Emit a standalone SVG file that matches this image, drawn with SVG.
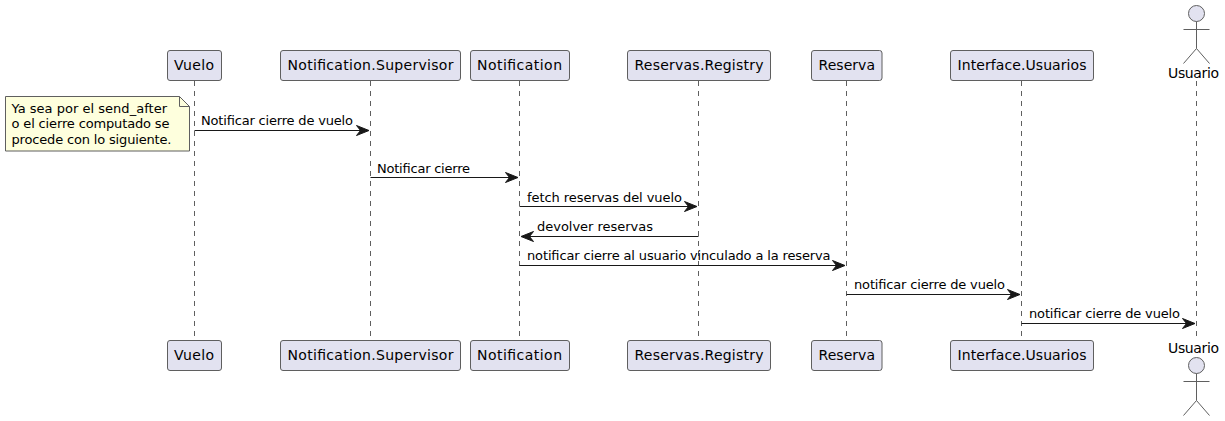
<svg xmlns="http://www.w3.org/2000/svg" width="1225" height="421" viewBox="0 0 1225 421">
<style>
text{font-family:"DejaVu Sans",sans-serif;fill:#000}
.p{font-size:14px}
.m{font-size:13px}
.b{fill:#E2E2F0;stroke:#5F5F5F;stroke-width:1}
.l{stroke:#5F5F5F;stroke-width:1;stroke-dasharray:5 5;fill:none}
.a{stroke:#181818;stroke-width:1;fill:none}
.h{fill:#181818;stroke:#181818;stroke-width:1}
.ac{fill:none;stroke:#5F5F5F;stroke-width:1}
</style>
<defs>
<path id="ar" class="h" d="M-12.5,-5 L0,0 L-12.5,5 L-8.5,0 Z"/>
<path id="al" class="h" d="M12.5,-5 L0,0 L12.5,5 L8.5,0 Z"/>
</defs>
<g id="lifelines">
<path class="l" d="M194.5,81V340"/><path class="l" d="M370.5,81V340"/><path class="l" d="M519.5,81V340"/><path class="l" d="M698.5,81V340"/><path class="l" d="M846.5,81V340"/><path class="l" d="M1021.5,81V340"/><path class="l" d="M1196.5,81V340"/>
</g>
<g id="vuelo"><rect class="b" x="167.5" y="50.5" width="54" height="30" rx="2.5"/><text class="p" x="174" y="70" textLength="40">Vuelo</text><rect class="b" x="167.5" y="340.5" width="54" height="30" rx="2.5"/><text class="p" x="174" y="360" textLength="40">Vuelo</text></g>
<g id="supervisor"><rect class="b" x="280.5" y="50.5" width="180" height="30" rx="2.5"/><text class="p" x="287.5" y="70" textLength="166">Notification.Supervisor</text><rect class="b" x="280.5" y="340.5" width="180" height="30" rx="2.5"/><text class="p" x="287.5" y="360" textLength="166">Notification.Supervisor</text></g>
<g id="notification"><rect class="b" x="470.5" y="50.5" width="99" height="30" rx="2.5"/><text class="p" x="477" y="70" textLength="85">Notification</text><rect class="b" x="470.5" y="340.5" width="99" height="30" rx="2.5"/><text class="p" x="477" y="360" textLength="85">Notification</text></g>
<g id="registry"><rect class="b" x="627.5" y="50.5" width="143" height="30" rx="2.5"/><text class="p" x="634.5" y="70" textLength="129">Reservas.Registry</text><rect class="b" x="627.5" y="340.5" width="143" height="30" rx="2.5"/><text class="p" x="634.5" y="360" textLength="129">Reservas.Registry</text></g>
<g id="reserva"><rect class="b" x="811.5" y="50.5" width="70.5" height="30" rx="2.5"/><text class="p" x="818.5" y="70" textLength="56.5">Reserva</text><rect class="b" x="811.5" y="340.5" width="70.5" height="30" rx="2.5"/><text class="p" x="818.5" y="360" textLength="56.5">Reserva</text></g>
<g id="interface"><rect class="b" x="950.5" y="50.5" width="143" height="30" rx="2.5"/><text class="p" x="957.5" y="70" textLength="129">Interface.Usuarios</text><rect class="b" x="950.5" y="340.5" width="143" height="30" rx="2.5"/><text class="p" x="957.5" y="360" textLength="129">Interface.Usuarios</text></g>
<g id="usuario">
<circle class="b" cx="1196.5" cy="13.5" r="8"/><path class="ac" d="M1196.5,21.5V48.5M1183.5,29.5H1209.5M1196.5,48.5L1183.5,63.5M1196.5,48.5L1209.5,63.5"/><text class="p" x="1168" y="78" textLength="51">Usuario</text>
<text class="p" x="1168" y="353" textLength="51">Usuario</text><circle class="b" cx="1196.5" cy="365.5" r="8"/><path class="ac" d="M1196.5,373.5V400.5M1183.5,381.5H1209.5M1196.5,400.5L1183.5,415.5M1196.5,400.5L1209.5,415.5"/>
</g>
<g id="note">
<path d="M5.5,96.5H179.5L189.5,106.5V151H5.5Z" fill="#FEFFDD" stroke="#5F5F5F"/><path d="M179.5,96.5V106.5H189.5" fill="none" stroke="#5F5F5F"/>
<text class="m" x="11.5" y="113" textLength="155.5">Ya sea por el send_after</text><text class="m" x="11.5" y="128" textLength="158">o el cierre computado se</text><text class="m" x="11.5" y="144" textLength="160">procede con lo siguiente.</text>
</g>
<g id="connectors">
<path class="a" d="M194.5,130.5H362"/><use href="#ar" x="369" y="130.5"/>
<path class="a" d="M370.5,177.5H511"/><use href="#ar" x="518" y="177.5"/>
<path class="a" d="M519.5,206.5H690"/><use href="#ar" x="697" y="206.5"/>
<path class="a" d="M698.5,236.5H528"/><use href="#al" x="521" y="236.5"/>
<path class="a" d="M519.5,265.5H838"/><use href="#ar" x="845" y="265.5"/>
<path class="a" d="M846.5,294.5H1013"/><use href="#ar" x="1020" y="294.5"/>
<path class="a" d="M1021.5,323.5H1188"/><use href="#ar" x="1195" y="323.5"/>
</g>
<g id="labels">
<text class="m" x="201" y="125" textLength="152">Notificar cierre de vuelo</text>
<text class="m" x="377" y="173" textLength="93">Notificar cierre</text>
<text class="m" x="527" y="202" textLength="155">fetch reservas del vuelo</text>
<text class="m" x="537" y="231" textLength="116">devolver reservas</text>
<text class="m" x="527" y="260" textLength="303.5">notificar cierre al usuario vinculado a la reserva</text>
<text class="m" x="854" y="289" textLength="151">notificar cierre de vuelo</text>
<text class="m" x="1029" y="318" textLength="151">notificar cierre de vuelo</text>
</g>
</svg>
